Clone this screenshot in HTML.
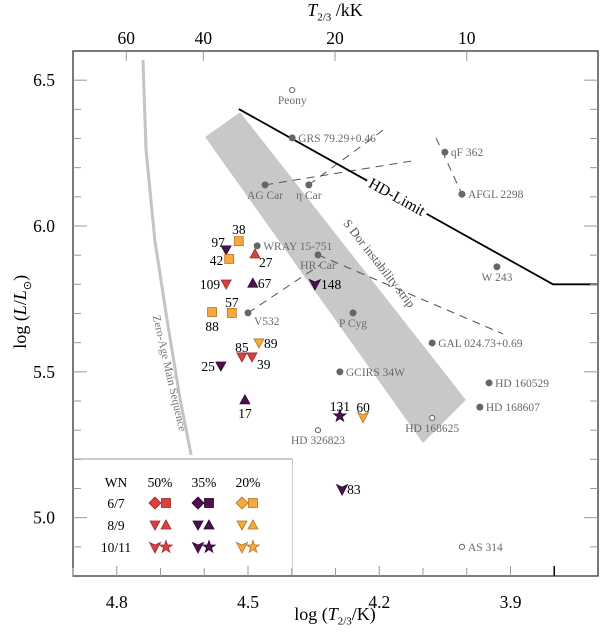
<!DOCTYPE html>
<html><head><meta charset="utf-8">
<style>
html,body{margin:0;padding:0;background:#fff;}
svg{display:block;font-family:"Liberation Serif",serif;}
</style></head>
<body>
<svg id="chart" width="600" height="633" viewBox="0 0 600 633" xmlns="http://www.w3.org/2000/svg"></svg>
<script>
// ---- data ----
const lbvNames = ["Peony","GRS 79.29+0.46","AG Car","η Car","qF 362","AFGL 2298","WRAY 15-751","HR Car","W 243","V532","P Cyg","GAL 024.73+0.69","GCIRS 34W","HD 160529","HD 168607","HD 168625","HD 326823","AS 314"];
const lbvLogT = [4.399,4.399,4.461,4.361,4.050,4.011,4.479,4.340,3.931,4.500,4.260,4.079,4.290,3.949,3.970,4.079,4.340,4.011];
const lbvLogL = [6.466,6.302,6.141,6.141,6.253,6.109,5.932,5.901,5.860,5.702,5.702,5.599,5.500,5.462,5.379,5.342,5.300,4.900];
const lbvOpen = [1,0,0,0,0,0,0,0,0,0,0,0,0,0,0,1,1,1];
const lbvLabelPos = ["below","right","below","below","right","right","right","below","below","rightlow","below","right","right","right","right","below","below","right"];

const wnIds = ["38","97","42","27","109","67","148","57","88","89","85","39","25","17","131","60","83"];
const wnLogT = [4.521,4.550,4.543,4.484,4.550,4.489,4.347,4.537,4.582,4.475,4.514,4.491,4.562,4.507,4.290,4.237,4.285];
const wnLogL = [5.948,5.918,5.887,5.904,5.801,5.804,5.801,5.702,5.705,5.599,5.551,5.551,5.520,5.404,5.349,5.346,5.098];
const wnShape = ["square","tridown","square","triup","tridown","triup","ydown","square","square","tridown","tridown","tridown","tridown","triup","star","ydown","ydown"];
const wnGroup = ["20","35","20","50","50","35","35","20","20","20","50","50","35","35","35","20","35"];
const wnLabelOff = [[0,-7,"middle"],[-8,-3,"middle"],[-6,6,"end"],[4,13,"start"],[-6,5,"end"],[5,5,"start"],[6,5,"start"],[0,-6,"middle"],[0,19,"middle"],[5,5,"start"],[0,-5,"middle"],[5,12,"start"],[-6,5,"end"],[0,18,"middle"],[0,-5,"middle"],[0,-5,"middle"],[5,5,"start"]];

const hdLimitT = [4.521,3.803,3.70];
const hdLimitL = [6.401,5.80,5.80];
const zamsT = [4.740,4.733,4.713,4.685,4.655,4.630];
const zamsL = [6.569,6.260,5.952,5.678,5.404,5.215];
const stripT = [4.598,4.518,4.002,4.100];
const stripL = [6.305,6.390,5.404,5.256];
const dashToT = [4.125,4.182,4.011,3.917,4.335];
const dashToL = [6.223,6.339,6.109,5.630,5.867];
const dashStartT = [4.461,4.361,4.070,4.340,4.500];
const dashStartL = [6.141,6.141,6.302,5.901,5.702];

const xTicks = [4.8,4.5,4.2,3.9];
const xMinor = [4.9,4.8,4.7,4.6,4.5,4.4,4.3,4.2,4.1,4.0,3.9,3.8];
const yTicks = [5.0,5.5,6.0,6.5];
const yMinor = [4.9,5.0,5.1,5.2,5.3,5.4,5.5,5.6,5.7,5.8,5.9,6.0,6.1,6.2,6.3,6.4,6.5];
const topTicksK = [60,40,20,10];

// ---- scales ----
const L0=73,R0=598,T0=51,B0=576;
const XMIN=4.9,XMAX=3.7,YMIN=4.8,YMAX=6.6;
function X(v){return L0+(XMIN-v)/(XMIN-XMAX)*(R0-L0);}
function Y(v){return B0-(v-YMIN)/(YMAX-YMIN)*(B0-T0);}

const svg=document.getElementById('chart');
const NS="http://www.w3.org/2000/svg";
function mk(tag,attrs,parent){const e=document.createElementNS(NS,tag);for(const k in attrs)e.setAttribute(k,attrs[k]);(parent||svg).appendChild(e);return e;}

const colors={"50":["#d9413e","#9a2a2a"],"35":["#4d1050","#2a0630"],"20":["#f5a83e","#b87420"]};

// strip
const strip=mk('polygon',{points:stripT.map((t,i)=>X(t)+','+Y(stripL[i])).join(' '),fill:'#c8c8c8'});


const st=mk('text',{x:0,y:0,'font-size':12.5,fill:'#555','text-anchor':'middle',transform:'translate(376,266) rotate(52)'});
st.textContent='S Dor instability strip';



// ZAMS
const zp=zamsT.map((t,i)=>(i?'L':'M')+X(t)+','+Y(zamsL[i])).join(' ');
const zams=mk('path',{d:zp,stroke:'#c4c4c4','stroke-width':3,fill:'none'});


const zt=mk('text',{x:0,y:0,'font-size':11.5,fill:'#777','text-anchor':'middle',transform:'translate(166,374) rotate(77)'});
zt.textContent='Zero-Age Main Sequence';



// dashed lines
dashToT.forEach((t,i)=>{
  const l=mk('line',{x1:X(dashStartT[i]),y1:Y(dashStartL[i]),x2:X(t),y2:Y(dashToL[i]),stroke:'#555','stroke-width':1,'stroke-dasharray':'8,6'});
  
  
});

// HD limit
const hp=hdLimitT.map((t,i)=>(i?'L':'M')+X(t)+','+Y(hdLimitL[i])).join(' ');
const hd=mk('path',{d:hp,stroke:'#000','stroke-width':1.8,fill:'none'});


const hg=mk('g',{transform:'translate(397,197) rotate(29)'});
mk('rect',{x:-34,y:-9,width:68,height:17,fill:'#fff'},hg);
const ht=mk('text',{x:0,y:5,'font-size':15.5,'text-anchor':'middle',fill:'#000'},hg);
ht.textContent='HD-Limit';



// LBVs
lbvNames.forEach((n,i)=>{
  const cx=X(lbvLogT[i]),cy=Y(lbvLogL[i]);
  const c=mk('circle',{cx:cx,cy:cy,r:lbvOpen[i]?2.6:3,fill:lbvOpen[i]?'#fff':'#666',stroke:'#666','stroke-width':1});
  
  
  let a,dx,dy;const p=lbvLabelPos[i];
  if(p==='below'){a='middle';dx=0;dy=14;}else if(p==='rightlow'){a='start';dx=6;dy=12;}else{a='start';dx=6;dy=4;}
  const t=mk('text',{x:cx+dx,y:cy+dy,'font-size':11.5,fill:'#6a6a6a','text-anchor':a});
  t.textContent=n;
  
  
});

// markers
function marker(shape,grp,x,y,parent){
  const [f,s]=colors[grp];let e;
  if(shape==='square')e=mk('rect',{x:x-4.5,y:y-4.5,width:9,height:9,fill:f,stroke:s,'stroke-width':0.8},parent);
  else if(shape==='diamond')e=mk('polygon',{points:`${x},${y-6} ${x+6},${y} ${x},${y+6} ${x-6},${y}`,fill:f,stroke:s,'stroke-width':0.8},parent);
  else if(shape==='triup')e=mk('polygon',{points:`${x},${y-5} ${x+5},${y+4} ${x-5},${y+4}`,fill:f,stroke:s,'stroke-width':0.8},parent);
  else if(shape==='tridown')e=mk('polygon',{points:`${x-5},${y-4} ${x+5},${y-4} ${x},${y+5}`,fill:f,stroke:s,'stroke-width':0.8},parent);
  else if(shape==='ydown')e=mk('polygon',{points:`${x-5.5},${y-4.5} ${x},${y-2} ${x+5.5},${y-4.5} ${x},${y+6}`,fill:f,stroke:s,'stroke-width':0.8},parent);
  else {let pts=[];for(let k=0;k<10;k++){const r=k%2?2.6:6.5,an=-Math.PI/2+k*Math.PI/5;pts.push((x+r*Math.cos(an)).toFixed(1)+','+(y+r*Math.sin(an)).toFixed(1));}
    e=mk('polygon',{points:pts.join(' '),fill:f,stroke:s,'stroke-width':0.8},parent);}
  return e;
}
wnIds.forEach((id,i)=>{
  const cx=X(wnLogT[i]),cy=Y(wnLogL[i]);
  const m=marker(wnShape[i],wnGroup[i],cx,cy);
  
  
  const o=wnLabelOff[i];
  const t=mk('text',{x:cx+o[0],y:cy+o[1],'font-size':13.5,fill:'#000','text-anchor':o[2]});
  t.textContent=id;
  
  
});

// legend
const lg=mk('g',{});


mk('path',{d:`M${L0},459 L292,459 L292,${B0}`,stroke:'#999','stroke-width':1,fill:'none'},lg);
mk('rect',{x:L0+1,y:460,width:218,height:115,fill:'#fff'},lg);
const hdrs=[["WN",116],["50%",160],["35%",204],["20%",248]];
hdrs.forEach(h=>{const t=mk('text',{x:h[1],y:487,'font-size':13.5,'text-anchor':'middle'},lg);t.textContent=h[0];
  
  });
const rows=[["6/7",503,"diamond","square"],["8/9",525,"tridown","triup"],["10/11",547,"ydown","star"]];
const gx=[["50",155,166],["35",198,209],["20",242,253]];
rows.forEach(r=>{
  const t=mk('text',{x:116,y:r[1]+5,'font-size':13.5,'text-anchor':'middle'},lg);t.textContent=r[0];
  
  
  gx.forEach(g=>{
    const a=marker(r[2],g[0],g[1],r[1],lg);
    
    
    const b=marker(r[3],g[0],g[2],r[1],lg);
    
    
  });
});

// axes frame
const fr=mk('rect',{x:L0,y:T0,width:R0-L0,height:B0-T0,fill:'none',stroke:'#333','stroke-width':1.3});


xMinor.forEach(v=>{const x=X(v);const len=xTicks.some(t=>Math.abs(t-v)<1e-6)?10:8;
  mk('line',{x1:x,y1:B0,x2:x,y2:B0-len,stroke:'#999','stroke-width':1});});
xTicks.forEach(v=>{const t=mk('text',{x:X(v),y:608,'font-size':17.5,'text-anchor':'middle'});t.textContent=v.toFixed(1);
  
  });
yMinor.forEach(v=>{const y=Y(v);const len=yTicks.some(t=>Math.abs(t-v)<1e-6)?14:8;
  mk('line',{x1:L0,y1:y,x2:L0+len,y2:y,stroke:'#999','stroke-width':1});
  mk('line',{x1:R0,y1:y,x2:R0-len,y2:y,stroke:'#999','stroke-width':1});});
yTicks.forEach(v=>{const t=mk('text',{x:55,y:Y(v)+6,'font-size':17.5,'text-anchor':'end'});t.textContent=v.toFixed(1);
  
  });
topTicksK.forEach(k=>{const x=X(Math.log10(k*1000));
  mk('line',{x1:x,y1:T0,x2:x,y2:T0+10,stroke:'#999','stroke-width':1});
  const t=mk('text',{x:x,y:44,'font-size':17.5,'text-anchor':'middle'});t.textContent=k;
  
  });
mk('line',{x1:X(3.8),y1:B0,x2:X(3.8),y2:B0-10,stroke:'#000','stroke-width':1.5});
</script>
<div style="position:absolute;left:0;top:0;width:600px;height:633px;pointer-events:none">
  <div style="position:absolute;left:245px;top:604px;width:180px;text-align:center;font:18px 'Liberation Serif',serif;">log (<i>T</i><sub style="font-size:11px">2/3</sub>/K)</div>
  <div style="position:absolute;left:255px;top:0px;width:160px;text-align:center;font:18px 'Liberation Serif',serif;"><i>T</i><sub style="font-size:11px">2/3</sub> /kK</div>
  <div style="position:absolute;left:-48px;top:300px;width:140px;text-align:center;font:18px 'Liberation Serif',serif;transform:rotate(-90deg);transform-origin:50% 50%;">log (<i>L</i>/<i>L</i><sub style="font-size:11px">⊙</sub>)</div>
</div>
</body></html>
